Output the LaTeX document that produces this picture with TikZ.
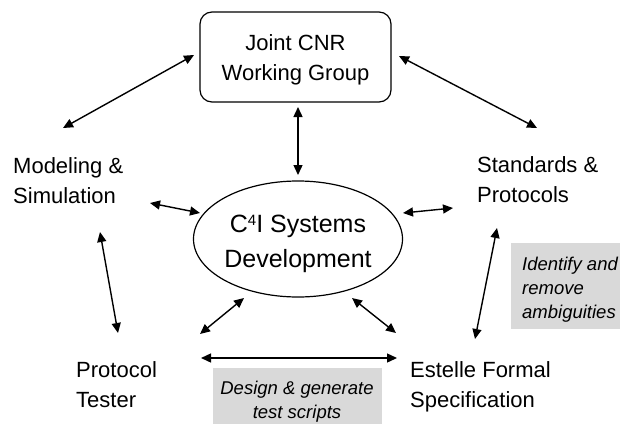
\documentclass[tikz,border=0pt]{standalone}
\usepackage{fontspec}
\setmainfont{Liberation Sans}
\usetikzlibrary{arrows.meta,shapes.geometric}
\definecolor{notegray}{HTML}{D9D9D9}
\begin{document}
\begin{tikzpicture}[x=1pt,y=-1pt,
  lbl/.style={inner sep=0pt, align=left, anchor=base west, font=\fontsize{22}{30}\selectfont},
  conn/.style={{Triangle[length=10pt,width=9pt]}-{Triangle[length=10pt,width=9pt]}, line width=1.4pt},
  notebox/.style={fill=notegray, inner sep=0pt, anchor=north west},
  notetext/.style={inner sep=0pt, font=\fontsize{18.5}{24}\selectfont\itshape}]
\useasboundingbox (0,0) rectangle (620,423);

% main nodes
\node[draw, rounded corners=12pt, line width=1.2pt, minimum width=191pt, minimum height=90pt] (jcnr) at (295.5,57) {};
\node[inner sep=0pt, align=center, anchor=base, font=\fontsize{22}{30}\selectfont] (jcnrtext) at (295.5,80) {Joint CNR\\Working Group};
\node[draw, ellipse, line width=1.2pt, minimum width=209pt, minimum height=116pt, inner sep=0pt] (c4i) at (298,239) {};
\node[inner sep=0pt, align=center, anchor=base, font=\fontsize{25}{35}\selectfont] (c4itext) at (298,267) {C\raisebox{6.5pt}{\fontsize{15}{15}\selectfont 4}I Systems\\Development};

\node[lbl] (model) at (13,203) {Modeling \&\\Simulation};
\node[lbl] (stand) at (477,202) {Standards \&\\Protocols};
\node[lbl] (tester) at (76,407) {Protocol\\Tester};
\node[lbl] (estelle) at (410,407) {Estelle Formal\\Specification};

% note boxes
\node[notebox, minimum width=109pt, minimum height=86pt] (ambbox) at (511,243) {};
\node[notetext, align=left, anchor=base west] (ambtext) at (522,318) {Identify and\\remove\\ambiguities};
\node[notebox, minimum width=169pt, minimum height=60pt] (desbox) at (213,368) {};
\node[notetext, align=center, anchor=base] (destext) at (297,418) {Design \& generate\\test scripts};

% connector end points
\coordinate (a1s) at (194,55);  \coordinate (a1e) at (63,128);
\coordinate (a2s) at (399,56);  \coordinate (a2e) at (537,128);
\coordinate (a3s) at (298,107); \coordinate (a3e) at (298,175);
\coordinate (a4s) at (150,203); \coordinate (a4e) at (200,213);
\coordinate (a5s) at (403,213); \coordinate (a5e) at (453,208);
\coordinate (a6s) at (100,232); \coordinate (a6e) at (118,333);
\coordinate (a7s) at (497,228); \coordinate (a7e) at (475,339);
\coordinate (a8s) at (244,298); \coordinate (a8e) at (200,334);
\coordinate (a9s) at (352,298); \coordinate (a9e) at (396,333);
\coordinate (a10s) at (201,358); \coordinate (a10e) at (397,358);

\draw[conn] (a1s) -- (a1e);
\draw[conn] (a2s) -- (a2e);
\draw[conn] (a3s) -- (a3e);
\draw[conn] (a4s) -- (a4e);
\draw[conn] (a5s) -- (a5e);
\draw[conn] (a6s) -- (a6e);
\draw[conn] (a7s) -- (a7e);
\draw[conn] (a8s) -- (a8e);
\draw[conn] (a9s) -- (a9e);
\draw[conn] (a10s) -- (a10e);
\end{tikzpicture}
\end{document}
